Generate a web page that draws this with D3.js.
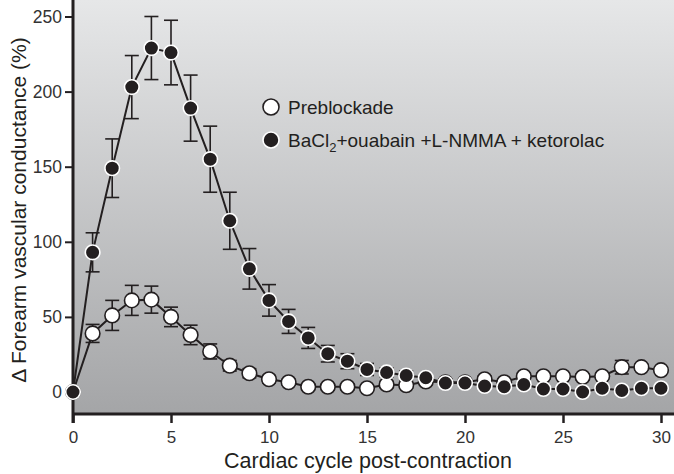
<!DOCTYPE html>
<html><head><meta charset="utf-8">
<script src="https://cdn.jsdelivr.net/npm/d3@7"></script>
<style>body{margin:0;background:#fff}svg{display:block}</style>
</head><body><svg id="c" width="674" height="474"></svg>
<script>
const cycles = d3.range(0, 31);
const preblockade = [0, 39, 51, 61, 61.5, 50, 38, 27, 17.5, 12.5, 8.5, 6.5, 3.5, 3.5, 3.5, 2.5, 5, 4.5, 7, 6.5, 6.5, 8.5, 6.5, 10.5, 10.5, 10.5, 10, 10.5, 16.5, 16.5, 14.5];
const preblockadeErr = [0, 6, 10, 10, 9, 6.5, 6.5, 5, 3.5, 3, 2.5, 2, 2, 2, 2, 2, 2, 2, 2, 2, 2, 2, 2, 2, 2, 2, 2, 2, 4.5, 2, 2];
const blockade = [0, 93, 149, 203, 229, 226, 189, 155, 114, 82, 61, 47, 36, 25.5, 20.5, 15, 13, 11, 9.5, 6, 6, 4, 3.5, 5, 2, 2, 0, 2.5, 1, 2.5, 2.5];
const blockadeErr = [0, 13, 19.5, 21, 21, 21.5, 22, 22, 19, 13.5, 10.5, 8, 7, 5.5, 5, 4, 3, 3, 2, 2, 1.5, 1.5, 1.5, 1.5, 1.5, 1.5, 1.5, 1.5, 1.5, 1.5, 1.5];
const xTicks = [0, 5, 10, 15, 20, 25, 30];
const yTicks = [0, 50, 100, 150, 200, 250];
const xTitle = "Cardiac cycle post-contraction";
const yTitle = "\u0394 Forearm vascular conductance (%)";

const svg = d3.select("#c");
const W = 674, H = 474;
const left = 73, bottom = 414;
const x = d3.scaleLinear().domain([0, 30]).range([73, 661]);
const y = d3.scaleLinear().domain([0, 250]).range([392, 16.5]);
const ink = "#231f20";
const font = "'Liberation Sans', Arial, sans-serif";

const defs = svg.append("defs");
const g = defs.append("linearGradient").attr("id", "bg").attr("x1", 0).attr("x2", 0).attr("y1", 0).attr("y2", 1);
g.append("stop").attr("offset", "0%").attr("stop-color", "#e6e7e8");
g.append("stop").attr("offset", "100%").attr("stop-color", "#a4a5a7");
svg.append("rect").attr("x", left).attr("y", 0).attr("width", W - left).attr("height", bottom).attr("fill", "url(#bg)");

// axes
const xAxis = d3.axisBottom(x).tickValues(xTicks).tickSize(9).tickPadding(8).tickFormat(d3.format("d"));
const gx = svg.append("g").attr("transform", `translate(0,${bottom})`).call(xAxis);
gx.select(".domain").remove();
gx.append("line").attr("x1", left).attr("x2", W).attr("y1", 0).attr("y2", 0).attr("stroke", ink).attr("stroke-width", 3);
gx.selectAll(".tick line").attr("stroke", ink).attr("stroke-width", 2.5);
gx.selectAll(".tick text").attr("font-family", font).attr("font-size", 17).attr("fill", "#333");

const yAxis = d3.axisLeft(y).tickValues(yTicks).tickSize(8).tickPadding(3);
const gy = svg.append("g").attr("transform", `translate(${left},0)`).call(yAxis);
gy.select(".domain").remove();
gy.append("line").attr("x1", 0).attr("x2", 0).attr("y1", 0).attr("y2", bottom + 9).attr("stroke", ink).attr("stroke-width", 3);
gy.selectAll(".tick line").attr("stroke", ink).attr("stroke-width", 2);
gy.selectAll(".tick text").attr("font-family", font).attr("font-size", 17.5).attr("fill", "#333");

svg.append("text").attr("x", 368).attr("y", 468).attr("text-anchor", "middle")
  .attr("font-family", font).attr("font-size", 21.5).attr("fill", ink).text(xTitle);
svg.append("text").attr("transform", "translate(26,210) rotate(-90)").attr("text-anchor", "middle")
  .attr("font-family", font).attr("font-size", 21).attr("fill", ink).text(yTitle);

function drawSeries(vals, errs, fill, stroke) {
  const pts = cycles.map((c, i) => ({c, v: vals[i], e: errs[i]}));
  const line = d3.line().x(d => x(d.c)).y(d => y(d.v));
  svg.append("path").datum(pts).attr("d", line).attr("fill", "none").attr("stroke", ink).attr("stroke-width", 2);
  const eb = svg.append("g").attr("stroke", ink).attr("stroke-width", 1.6);
  pts.filter(d => d.e > 0).forEach(d => {
    eb.append("line").attr("x1", x(d.c)).attr("x2", x(d.c)).attr("y1", y(d.v - d.e)).attr("y2", y(d.v + d.e));
    [d.v - d.e, d.v + d.e].forEach(v => eb.append("line").attr("x1", x(d.c) - 7).attr("x2", x(d.c) + 7).attr("y1", y(v)).attr("y2", y(v)));
  });
  svg.append("g").selectAll("circle").data(pts).join("circle")
    .attr("cx", d => x(d.c)).attr("cy", d => y(d.v)).attr("r", 7.3)
    .attr("fill", fill).attr("stroke", stroke).attr("stroke-width", 1.6);
}
drawSeries(preblockade, preblockadeErr, "#ffffff", ink);
drawSeries(blockade, blockadeErr, ink, "#ffffff");

// legend
const lg = svg.append("g").attr("font-family", font).attr("font-size", 19).attr("fill", ink);
lg.append("circle").attr("cx", 271).attr("cy", 107).attr("r", 8).attr("fill", "#fff").attr("stroke", ink).attr("stroke-width", 1.6);
lg.append("circle").attr("cx", 271).attr("cy", 140).attr("r", 8).attr("fill", ink).attr("stroke", "#fff").attr("stroke-width", 1.6);
lg.append("text").attr("x", 288).attr("y", 114).text("Preblockade");
const t2 = lg.append("text").attr("x", 288).attr("y", 147);
t2.append("tspan").text("BaCl");
t2.append("tspan").attr("font-size", 13).attr("dy", 5).text("2");
t2.append("tspan").attr("dy", -5).text("+ouabain +L-NMMA + ketorolac");
</script></body></html>
